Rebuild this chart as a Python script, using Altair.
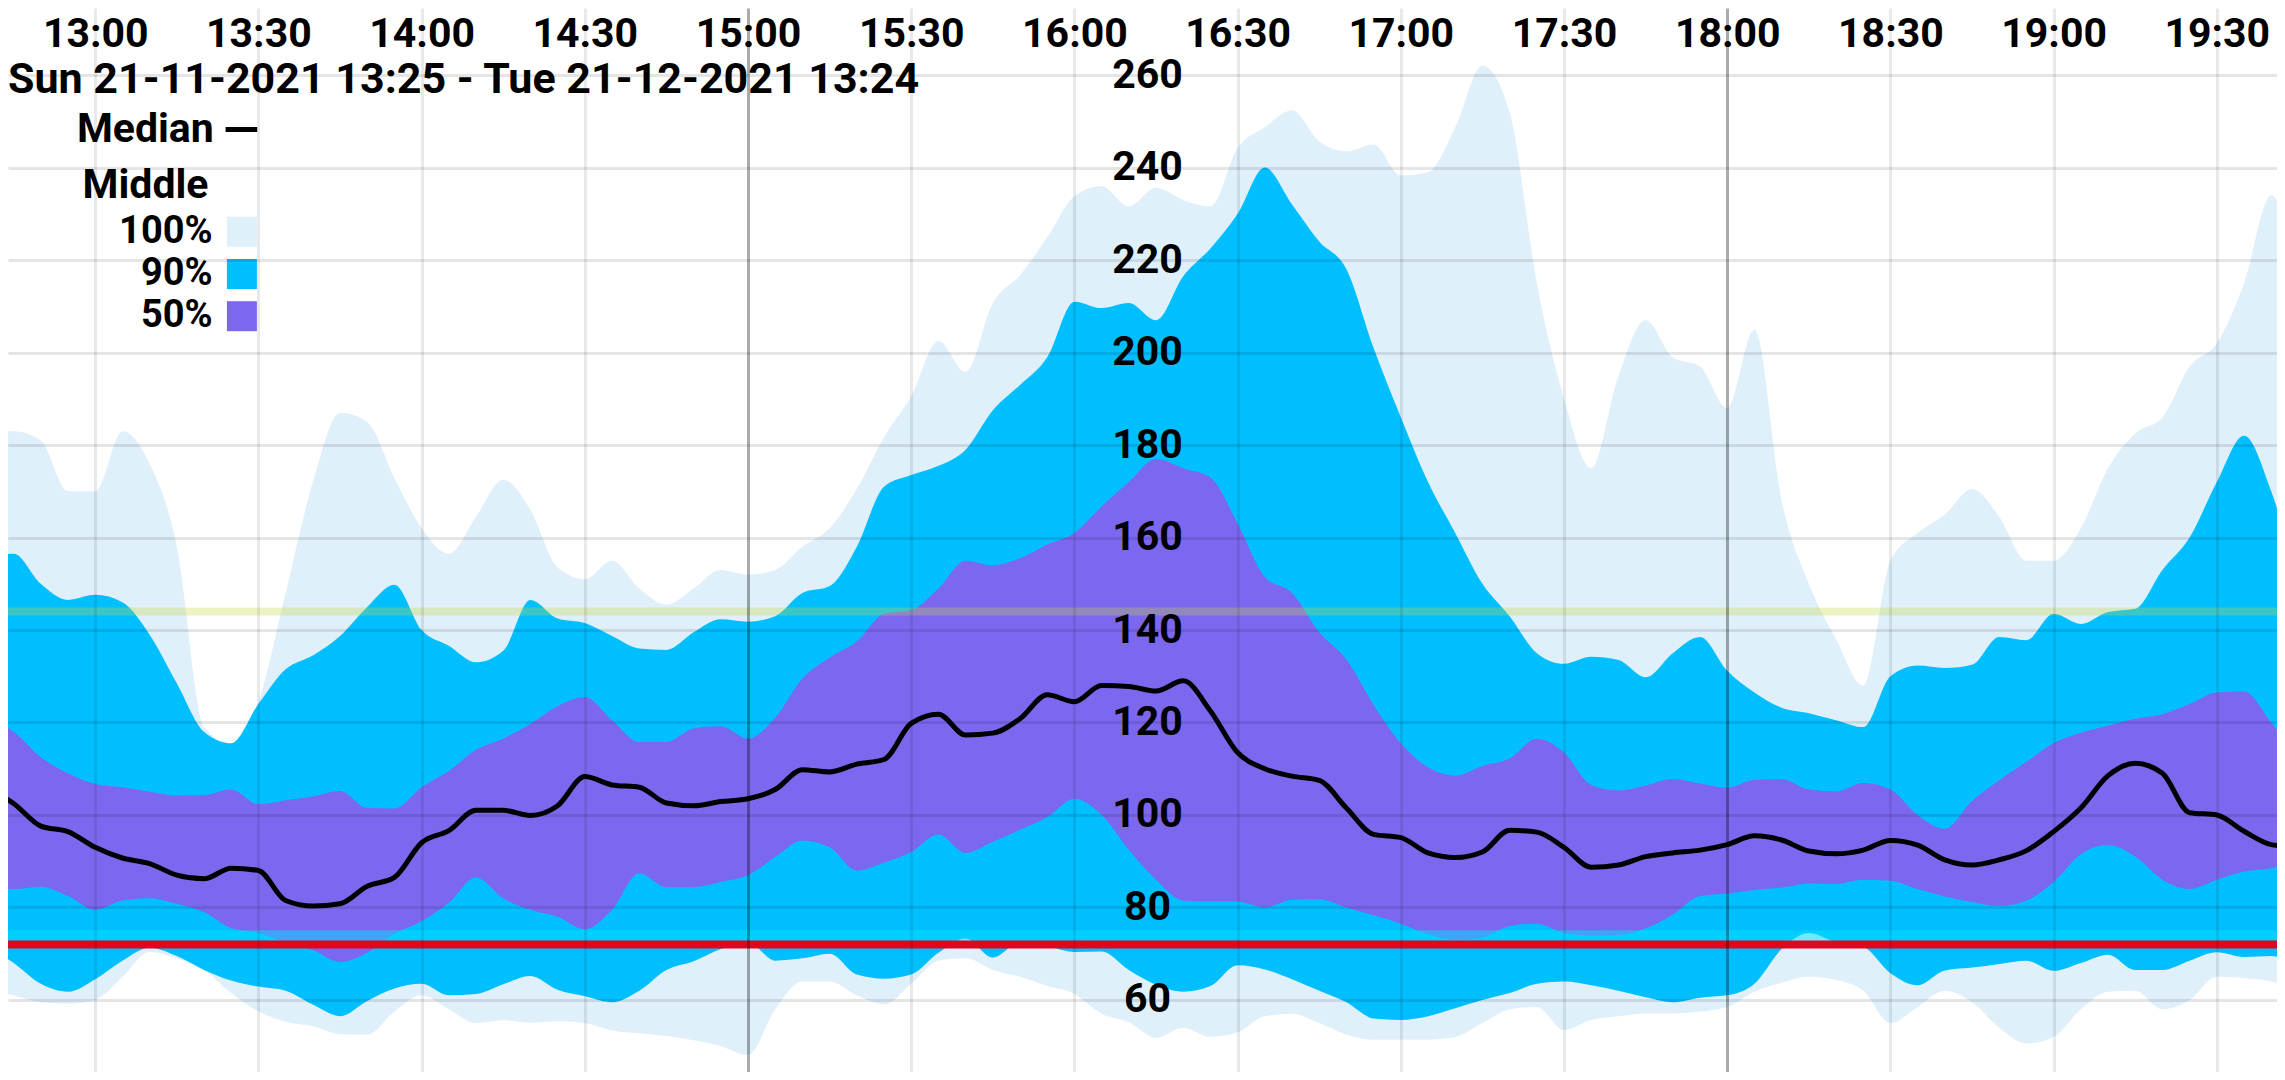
import altair as alt
import pandas as pd

# ---------------- data (mg/dL), 5-minute grid starting 12:40 ----------------
START_MIN = 760   # 12:40 as minutes after midnight
STEP_MIN = 5

minimum = [63, 61, 59.5, 59.2, 60, 65, 70.4, 69, 66.5, 61.5,
           57.5, 55.3, 54.3, 52.6, 52.5, 57.5, 61, 58, 55, 55.6,
           55.1, 55.4, 55, 53.4, 52.8, 52.2, 51.3, 50, 48.1, 58,
           64, 64, 61, 59, 63.5, 68.5, 69,
           66.5, 65, 63, 61.3,
           57, 55.2, 51.8, 54, 52, 53, 56.5, 57, 55, 52.5,
           51.4, 51.4, 51.4, 52, 55, 58, 58.5, 53.5, 55.7, 56.5,
           57.1, 57.1, 57.5, 58.5, 61.8, 63.7, 65, 64.3, 62, 55,
           58.5, 62, 59.5, 54, 50.6, 52, 58, 61.8, 62, 58,
           60, 65, 64.7, 64, 61]
p5 = [71.5, 68, 63.5, 61.8, 64.5, 68.5, 71.3, 69.5, 66.5, 64.2,
      62.9, 62, 59, 56.5, 59.8, 62.5, 63.5, 61, 61.3, 63.4,
      65.2, 62.2, 60.8, 59.5, 62, 66.5, 68.4, 71, 72.5, 68.5,
      69, 70, 65.5, 64.6, 65.5, 70.2, 73.3, 69.2, 72.5, 71.6,
      70.4,
      70.5, 66.5, 63.3, 61.8, 63, 67.5, 66.6, 64.5, 62, 59.5,
      56, 55.7, 56.5, 58.2, 60, 61.5, 63.5, 64, 63.2, 62,
      60.6, 59.5, 60.5, 61, 63.5, 71, 74.5, 72.5, 71.5, 65.8,
      63.2, 66.4, 67, 67.8, 68.5, 66.3, 68, 69.8, 66.5, 66.5,
      68.5, 70.3, 69.3, 69.5, 67.5]
p25 = [84, 84, 84.5, 82.5, 79.5, 81.5, 82, 80.8, 79, 75.5,
       74.5, 72.5, 70.8, 68.2, 70.2, 74.3, 77, 81, 86.5, 82,
       79.5, 78, 75.3, 79.5, 87.4, 84.4, 84.4, 85.5, 87, 90.9,
       94.5, 93, 88, 89.7, 92, 95.8, 91.8, 94.2, 96.8, 99.5,
       103.5, 100, 92.5,
       86, 81.5, 81.3, 81.3, 80, 81.7, 81.8, 80, 78.3, 76.5,
       74.2, 73, 73.5, 76, 76.5, 74.5, 73.9, 74, 75.5, 78.5,
       82.5, 83, 83.8, 84.3, 85.2, 85.1, 86, 85.8, 84, 82.4,
       81.2, 80.3, 81.5, 85.5, 91.5, 93.5, 91, 86, 84, 86,
       87.8, 88.5, 90]
median = [106, 102.5, 97.6, 96.4, 93, 90.7, 89.5, 87, 86.2, 88.5,
          88, 81.5, 80.3, 80.8, 84.6, 86.5, 94, 96.6, 101, 101,
          99.9, 102, 108.3, 106.5, 106, 102.6, 102, 102.9, 103.5, 105.5,
          109.8, 109.3, 111, 112, 119.8, 121.8, 117.3, 117.7, 120.8, 126,
          124.5, 128, 127.8,
          126.8, 129, 122.5, 113.5, 110, 108.4, 107.5, 101.5, 95.8, 95.1,
          91.8, 90.8, 92, 96.7, 96.3, 93, 88.7, 89.2, 91, 91.8,
          92.4, 93.6, 95.5, 94.6, 92.2, 91.6, 92.4, 94.5, 93.5, 90.3,
          89.2, 90.3, 92.3, 96.4, 101.5, 108.5, 111.2, 109, 100.5, 100,
          96.5, 93.6, 93]
p75 = [121, 118, 112.5, 109, 106.7, 106, 105, 104.2, 104.3, 105.5,
       102.3, 103.2, 104, 105.2, 101.5, 101.4, 106, 109.5, 114.1, 116.5,
       119.7, 123.5, 125.5, 120.5, 115.8, 115.8, 118.7, 119.2, 116.5, 121,
       129.5, 134, 137.5, 143.5, 144.3, 149, 155, 154, 155.5, 158.5,
       161, 166.7, 172,
       177, 175, 173, 163, 151.5, 148, 139.5, 133.6, 123.8, 115.5,
       110.3, 108.5, 110.6, 112.2, 116.5, 113.5, 106.5, 105.3, 106.4, 107.8,
       106.8, 105.9, 107.6, 107.8, 105.5, 105.1, 106.9, 105.5, 100, 97,
       103, 107.5, 111.5, 115.5, 117.8, 119.3, 120.8, 121.8, 124, 126.5,
       126.7, 120, 112]
p95 = [155, 156.5, 150, 146.5, 147.6, 146, 139, 128.5, 118, 115.5,
       124, 131.5, 134.5, 138.7, 145, 149.8, 140, 136.6, 133, 135.5,
       146.5, 142.5, 141.5, 138.7, 136, 135.7, 139.5, 142.3, 141.8, 143,
       148, 149.5, 158, 171, 173.5, 175.5, 179, 187.5, 193, 199,
       211, 209.6, 210.7,
       207, 216.5, 222.5, 230, 240, 232, 224, 218, 201, 186,
       172, 161, 150, 143, 135, 132.7, 134.2, 133.5, 129.8, 135,
       138.5, 131.2, 126.5, 123.2, 122, 120.5, 119, 130, 132.3, 131.8,
       132.5, 138.5, 137.8, 143.5, 141.3, 143.9, 144.6, 153, 160, 172,
       182, 170, 150]
maximum = [182, 183, 181, 170, 170, 183, 176, 158, 119, 115.5,
           124.5, 148, 172, 187, 185, 173, 162, 156.5, 164.5, 172.5,
           166, 153.5, 151, 155, 149, 145.5, 149, 153, 152, 153,
           158, 162, 170.5, 181.7, 190.6, 202.5, 195.8, 210.7, 216.7, 224.9,
           233.8, 236, 231.6,
           235.6, 233, 231.6, 244.2, 248.7, 252.4, 245.7, 243.5, 245, 238.3,
           239, 248.7, 262, 252, 215, 190, 175, 195, 207, 199,
           197, 188, 205, 168, 150, 138, 128, 155, 161, 165,
           170.5, 164.5, 155, 155, 162, 175, 182.5, 186, 197, 202,
           215, 234, 215]

times = [START_MIN + STEP_MIN * i for i in range(len(median))]

x_ticks = [780, 810, 840, 870, 900, 930, 960, 990, 1020, 1050, 1080, 1110, 1140, 1170]
y_ticks = [60, 80, 100, 120, 140, 160, 180, 200, 220, 240, 260]
band_labels = ["100%", "90%", "50%"]
median_label = ["Median"]
HIGH_LIMIT = 144
LOW_LIMIT = 72
LOW_BAND = 73.8
subtitle = "Sun 21-11-2021 13:25 - Tue 21-12-2021 13:24"

# ---------------- styling ----------------
band_colors = ["#dff0fb", "#00bfff", "#7b68ee"]
FONT = "Roboto"
FS = 41
W, H = 2269, 1064
X_DOMAIN = [763.97, 1181.06]
Y_DOMAIN = [44.43, 274.49]

df = pd.DataFrame({"t": times, "mn": minimum, "p5": p5, "p25": p25,
                   "med": median, "p75": p75, "p95": p95, "mx": maximum})

xscale = alt.Scale(domain=X_DOMAIN, nice=False, zero=False)
yscale = alt.Scale(domain=Y_DOMAIN, nice=False, zero=False)

x_axis = alt.Axis(
    orient="top", values=x_ticks, title="", domain=False, ticks=False,
    labelExpr="floor(datum.value/60) + ':' + (datum.value % 60 == 0 ? '00' : '30')",
    labelFont=FONT, labelFontWeight="bold", labelFontSize=FS, labelColor="#000000",
    labelPadding=0, labelBaseline="alphabetic", labelFlush=False, labelOverlap=False,
    offset=-38.5, grid=True, gridWidth=3,
    gridColor={"condition": {"test": "datum.value % 180 == 0", "value": "#000000"}, "value": "#000000"},
    gridOpacity={"condition": {"test": "datum.value % 180 == 0", "value": 0.33}, "value": 0.085},
    zindex=1,
)
y_axis = alt.Axis(
    orient="left", values=y_ticks, title="", domain=False, ticks=False,
    labelFont=FONT, labelFontWeight="bold", labelFontSize=FS, labelColor="#000000",
    labelAlign="center", labelBaseline="middle", labelPadding=0, labelOverlap=False,
    offset=-1139, grid=True, gridWidth=3, gridColor="#000000", gridOpacity=0.1,
    zindex=1,
)

fill_legend = alt.Legend(
    title="Middle", orient="none", legendX=74.6, legendY=157.5, direction="vertical",
    symbolType="square", symbolSize=900, symbolStrokeWidth=0, symbolOffset=140.3,
    labelAlign="right", labelOffset={"expr": "-48.3"}, labelLimit=0,
    labelFont=FONT, labelFontWeight="bold", labelFontSize=38, labelColor="#000000",
    titleFont=FONT, titleFontWeight="bold", titleFontSize=FS, titleColor="#000000",
    titleAnchor="start", titleBaseline="top", titlePadding=6.3, rowPadding=4.2, padding=0,
)
stroke_legend = alt.Legend(
    title=None, orient="none", legendX=64.9, legendY=101, direction="vertical",
    symbolType="stroke", symbolSize=1000, symbolStrokeWidth=5, symbolOffset=148,
    labelAlign="right", labelOffset={"expr": "-48.1"}, labelLimit=0,
    labelFont=FONT, labelFontWeight="bold", labelFontSize=FS, labelColor="#000000",
    padding=0,
)

fill_scale = alt.Scale(domain=band_labels, range=band_colors)


def band(lo, hi, label):
    return alt.Chart(df).transform_calculate(band=f'"{label}"').mark_area(
        interpolate="monotone", clip=True
    ).encode(
        x=alt.X("t:Q", scale=xscale, axis=x_axis),
        y=alt.Y(f"{lo}:Q", scale=yscale, axis=y_axis),
        y2=f"{hi}:Q",
        fill=alt.Fill("band:N", scale=fill_scale, legend=fill_legend),
    )


band100 = band("mn", "mx", "100%")
band90 = band("p5", "p95", "90%")
band50 = band("p25", "p75", "50%")

median_line = alt.Chart(df).transform_calculate(series='"Median"').mark_line(
    interpolate="monotone", strokeWidth=5, clip=True
).encode(
    x=alt.X("t:Q", scale=xscale, axis=x_axis),
    y=alt.Y("med:Q", scale=yscale, axis=y_axis),
    stroke=alt.Stroke("series:N", scale=alt.Scale(domain=median_label, range=["#000000"]),
                      legend=stroke_legend),
)

high_rule = alt.Chart(pd.DataFrame({"v": [HIGH_LIMIT]})).mark_rule(
    color="#c6d73a", opacity=0.3, strokeWidth=8
).encode(y=alt.Y("v:Q", scale=yscale, axis=y_axis))

low_band = alt.Chart(pd.DataFrame({"v": [LOW_BAND]})).mark_rule(
    color="#00e0ff", opacity=0.5, strokeWidth=12
).encode(y=alt.Y("v:Q", scale=yscale, axis=y_axis))

low_rule = alt.Chart(pd.DataFrame({"v": [LOW_LIMIT]})).mark_rule(
    color="#e0061f", strokeWidth=8
).encode(y=alt.Y("v:Q", scale=yscale, axis=y_axis))

chart = alt.layer(
    band100, band90, band50, median_line, high_rule, low_band, low_rule
).properties(
    width=W, height=H, padding=0,
    autosize=alt.AutoSizeParams(type="none"),
    background="#ffffff",
    title=alt.TitleParams(
        text=subtitle, anchor="start", frame="group", orient="top", offset=0,
        dx=0, dy=128.4, baseline="alphabetic",
        font=FONT, fontWeight="bold", fontSize=43, color="#000000",
    ),
).configure_view(stroke="transparent")

chart.save("out.html", embed_options={"renderer": "svg", "actions": False})
